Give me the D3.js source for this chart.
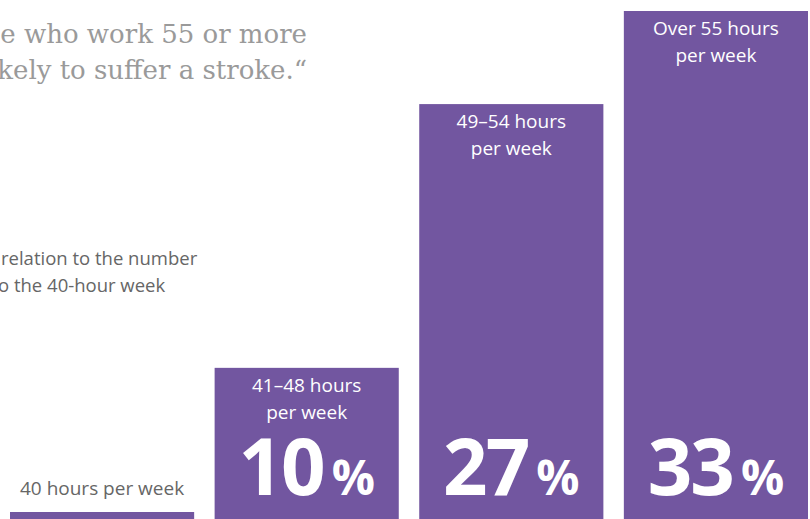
<!DOCTYPE html>
<html>
<head>
<meta charset="utf-8">
<script src="https://cdn.jsdelivr.net/npm/d3@7"></script>
<style>
  html, body { margin: 0; padding: 0; background: #fff; }
  svg { display: block; }
</style>
</head>
<body>
<svg id="chart" width="810" height="519"></svg>
<script>
// ---- data ----
const categories = ["40 hours", "41–48 hours", "49–54 hours", "Over 55 hours"];
const labelLine2 = ["per week", "per week", "per week", "per week"];
const values = [0, 10, 27, 33];
const titleLines = ["e who work 55 or more", "kely to suffer a stroke.“"];
const subtitleLines = ["relation to the number", "o the 40-hour week"];

// ---- setup ----
const W = 810, H = 519;
const purple = "#7256a0";
const sans = "'Open Sans', 'Noto Sans', sans-serif";
const svg = d3.select("#chart");

const x = d3.scaleBand().domain(d3.range(categories.length)).range([10, 808]).paddingInner(0.1).paddingOuter(0);
const y = d3.scaleLinear().domain([0, 33]).range([523, 11]);
const minBarTop = H - 7;
const barTop = v => Math.min(y(v), minBarTop);

// title (serif, cropped at left)
svg.append("g").selectAll("text").data(titleLines).join("text")
  .attr("x", 307).attr("y", (d, i) => 43 + i * 36)
  .attr("text-anchor", "end")
  .attr("font-family", "'DejaVu Serif', serif")
  .attr("font-size", 26).attr("fill", "#9a9a9a")
  .text(d => d);

// subtitle
svg.append("g").selectAll("text").data(subtitleLines).join("text")
  .attr("x", (d, i) => i === 0 ? 1 : -2).attr("y", (d, i) => 265 + i * 27)
  .attr("font-family", sans)
  .attr("font-size", 18.5).attr("fill", "#666")
  .text(d => d);

// bars
const data = values.map((v, i) => ({ v, i, cat: categories[i], l2: labelLine2[i] }));
svg.append("g").selectAll("rect").data(data).join("rect")
  .attr("x", d => x(d.i)).attr("width", x.bandwidth())
  .attr("y", d => barTop(d.v)).attr("height", d => H - barTop(d.v))
  .attr("fill", purple);

// labels
const lab = svg.append("g").selectAll("g").data(data).join("g");
// baseline bar: label above in grey
lab.filter(d => d.v === 0).append("text")
  .attr("x", d => x(d.i) + x.bandwidth() / 2).attr("y", d => barTop(d.v) - 17)
  .attr("text-anchor", "middle").attr("font-family", sans).attr("font-size", 19)
  .attr("fill", "#666")
  .text(d => d.cat + " " + d.l2);

const inside = lab.filter(d => d.v > 0);
inside.append("text")
  .attr("x", d => x(d.i) + x.bandwidth() / 2).attr("y", d => barTop(d.v) + 24)
  .attr("text-anchor", "middle").attr("font-family", sans).attr("font-size", 19)
  .attr("fill", "#fff")
  .text(d => d.cat);
inside.append("text")
  .attr("x", d => x(d.i) + x.bandwidth() / 2).attr("y", d => barTop(d.v) + 51)
  .attr("text-anchor", "middle").attr("font-family", sans).attr("font-size", 19)
  .attr("fill", "#fff")
  .text(d => d.l2);

// big percentages
const big = inside.append("text")
  .attr("x", d => x(d.i) + x.bandwidth() / 2).attr("y", H - 24)
  .attr("text-anchor", "middle")
  .attr("font-family", "'Open Sans', sans-serif")
  .attr("font-weight", "bold").attr("fill", "#fff")
  .attr("letter-spacing", -2);
big.append("tspan").attr("font-size", 78).text(d => d.v);
big.append("tspan").attr("font-size", 48).attr("dx", 8).attr("letter-spacing", 0).text("%");
</script>
</body>
</html>
